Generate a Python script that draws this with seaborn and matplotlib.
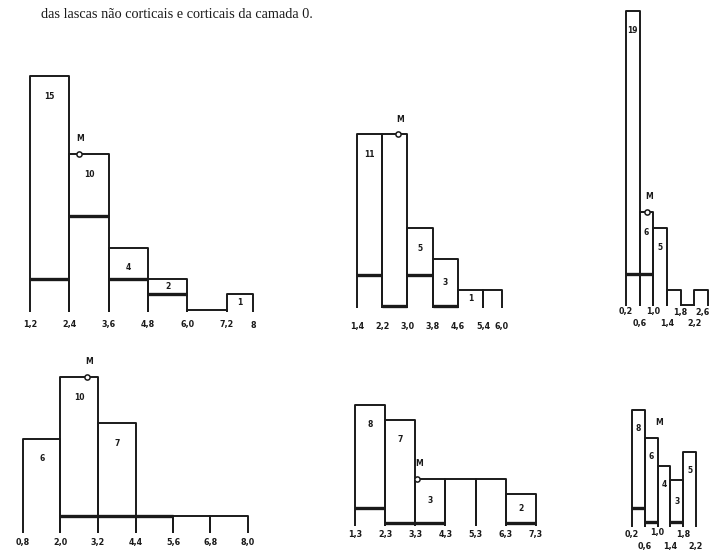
import numpy as np
import pandas as pd
import matplotlib
matplotlib.use("Agg")
import matplotlib.pyplot as plt
import seaborn as sns

# ---------------- data ----------------
title_text = "das lascas não corticais e corticais da camada 0."

p1_edges = [1.2, 2.4, 3.6, 4.8, 6.0, 7.2, 8.0]
p1_counts = [15, 10, 4, 2, 0, 1]
p1_cortical = [2, 6, 2, 1, np.nan, np.nan]
p1_labeled = [1, 1, 1, 1, 0, 1]
p1_ticks = ["1,2", "2,4", "3,6", "4,8", "6,0", "7,2", "8"]
p1_mean = 2.68

p2_edges = [1.4, 2.2, 3.0, 3.8, 4.6, 5.4, 6.0]
p2_counts = [11, 11, 5, 3, 1, 1]
p2_cortical = [2, 0, 2, 0, np.nan, np.nan]
p2_labeled = [1, 0, 1, 1, 1, 0]
p2_ticks = ["1,4", "2,2", "3,0", "3,8", "4,6", "5,4", "6,0"]
p2_mean = 2.70

p3_edges = [0.2, 0.6, 1.0, 1.4, 1.8, 2.2, 2.6]
p3_counts = [19, 6, 5, 1, 0, 1]
p3_cortical = [2, 2, np.nan, np.nan, np.nan, np.nan]
p3_labeled = [1, 1, 1, 0, 0, 0]
p3_ticks = ["0,2", "0,6", "1,0", "1,4", "1,8", "2,2", "2,6"]
p3_mean = 0.81

p4_edges = [0.8, 2.0, 3.2, 4.4, 5.6, 6.8, 8.0]
p4_counts = [6, 10, 7, 1, 1, 1]
p4_cortical = [np.nan, 1, 1, 1, np.nan, np.nan]
p4_labeled = [1, 1, 1, 0, 0, 0]
p4_ticks = ["0,8", "2,0", "3,2", "4,4", "5,6", "6,8", "8,0"]
p4_mean = 2.85

p5_edges = [1.3, 2.3, 3.3, 4.3, 5.3, 6.3, 7.3]
p5_counts = [8, 7, 3, 3, 3, 2]
p5_cortical = [1, 0, 0, np.nan, np.nan, 0]
p5_labeled = [1, 1, 1, 0, 0, 1]
p5_ticks = ["1,3", "2,3", "3,3", "4,3", "5,3", "6,3", "7,3"]
p5_mean = 3.35

p6_edges = [0.2, 0.6, 1.0, 1.4, 1.8, 2.2]
p6_counts = [8, 6, 4, 3, 5]
p6_cortical = [1, 0, np.nan, 0, np.nan]
p6_labeled = [1, 1, 1, 1, 1]
p6_ticks = ["0,2", "0,6", "1,0", "1,4", "1,8", "2,2"]
p6_mean = 0.98

# ---------------- layout (pixels) ----------------
W, H = 709, 554
sns.set_style("white")
plt.rcParams["font.family"] = ["DejaVu Sans"]
fig = plt.figure(figsize=(W / 100, H / 100), dpi=100)
fig.patch.set_facecolor("white")

panels = [
    dict(e=p1_edges, c=p1_counts, k=p1_cortical, l=p1_labeled, t=p1_ticks, m=p1_mean,
         geo=(1.2, 30, 8.0, 253, 310, 15.6), toff=[15] * 7, tdx=[0] * 7, circ=True, ext=0.1),
    dict(e=p2_edges, c=p2_counts, k=p2_cortical, l=p2_labeled, t=p2_ticks, m=p2_mean,
         geo=(1.4, 357, 6.0, 502, 306, 15.6), toff=[20] * 7, tdx=[0] * 7, circ=True, ext=0.15),
    dict(e=p3_edges, c=p3_counts, k=p3_cortical, l=p3_labeled, t=p3_ticks, m=p3_mean,
         geo=(0.2, 626, 2.6, 708, 305, 15.5), toff=[6, 18, 6, 18, 7, 18, 7],
         tdx=[0, 0, 0, 0, 0, 0, -6], circ=True, ext=0.05),
    dict(e=p4_edges, c=p4_counts, k=p4_cortical, l=p4_labeled, t=p4_ticks, m=p4_mean,
         geo=(0.8, 23, 8.0, 248, 531, 15.4), toff=[12] * 7, tdx=[0] * 7, circ=True, ext=0.15),
    dict(e=p5_edges, c=p5_counts, k=p5_cortical, l=p5_labeled, t=p5_ticks, m=p5_mean,
         geo=(1.3, 355, 7.3, 536, 523, 14.7), toff=[12] * 7, tdx=[0] * 7, circ=True, ext=0.2),
    dict(e=p6_edges, c=p6_counts, k=p6_cortical, l=p6_labeled, t=p6_ticks, m=p6_mean,
         geo=(0.2, 632, 2.2, 696, 522, 14.0), toff=[12, 25, 11, 25, 13, 25],
         tdx=[0] * 6, circ=False, ext=0.35),
]


def make_axes(geo, xlim, ylim):
    xa, pa, xb, pb, B, s = geo
    k = (pb - pa) / (xb - xa)
    left = pa + (xlim[0] - xa) * k
    right = pa + (xlim[1] - xa) * k
    top_px = B - ylim[1] * s
    bot_px = B - ylim[0] * s
    ax = fig.add_axes([left / W, 1 - bot_px / H, (right - left) / W, (bot_px - top_px) / H])
    ax.set_xlim(xlim)
    ax.set_ylim(ylim)
    ax.set_facecolor("none")
    ax.axis("off")
    return ax


for p in panels:
    edges, counts, cort = p["e"], p["c"], p["k"]
    xlim = (edges[0] - 0.3, edges[-1] + 0.3)
    ylim = (-2.5, max(counts) + 2.5)
    ax = make_axes(p["geo"], xlim, ylim)

    rows = []
    for i, h in enumerate(counts):
        l, r = edges[i], edges[i + 1]
        for x, y in [(l, -p["ext"]), (l, h), (r, h), (r, -p["ext"])]:
            rows.append((i, x, y))
    outline = pd.DataFrame(rows, columns=["bar", "x", "y"])
    sns.lineplot(data=outline, x="x", y="y", units="bar", estimator=None, sort=False,
                 color="#1a1a1a", lw=1.4, ax=ax, legend=False)

    rows = []
    for i, cv in enumerate(cort):
        if not np.isnan(cv):
            rows.append((i, edges[i], cv))
            rows.append((i, edges[i + 1], cv))
    if rows:
        inner = pd.DataFrame(rows, columns=["bar", "x", "y"])
        sns.lineplot(data=inner, x="x", y="y", units="bar", estimator=None, sort=False,
                     color="#1a1a1a", lw=2.4, ax=ax, legend=False)
    for ln in ax.lines:
        ln.set_clip_on(False)
        ln.set_solid_capstyle("butt")

    # counts inside bars
    for i, h in enumerate(counts):
        if p["l"][i]:
            cv = 0 if np.isnan(cort[i]) else cort[i]
            y = h - 1.3 if h >= 4 else (h + cv) / 2
            ax.text((edges[i] + edges[i + 1]) / 2, y, str(h), ha="center", va="center",
                    fontsize=5.5, fontweight="bold", color="#1a1a1a", clip_on=False)

    # tick labels
    for x, lab, off, dx in zip(edges, p["t"], p["toff"], p["tdx"]):
        ax.annotate(lab, xy=(x, 0), xytext=(dx * 0.72, -off * 0.72), textcoords="offset points",
                    ha="center", va="center", fontsize=5.8, fontweight="bold",
                    color="#1a1a1a", annotation_clip=False)

    # mean marker
    b = int(np.clip(np.searchsorted(edges, p["m"]) - 1, 0, len(counts) - 1))
    my = counts[b]
    if p["circ"]:
        sns.scatterplot(x=[p["m"]], y=[my], ax=ax, s=14, marker="o", facecolor="white",
                        edgecolor="#1a1a1a", linewidth=1.1, zorder=5, clip_on=False)
    ax.annotate("M", xy=(p["m"], my), xytext=(1.5, 11), textcoords="offset points",
                ha="center", va="center", fontsize=5.5, fontweight="bold",
                color="#1a1a1a", annotation_clip=False)

fig.text(41 / W, 1 - 15 / H, title_text, ha="left", va="center", fontsize=10.3,
         family=["Liberation Serif", "DejaVu Serif"], color="#1a1a1a")

fig.savefig("out.png", dpi=100, facecolor="white")
